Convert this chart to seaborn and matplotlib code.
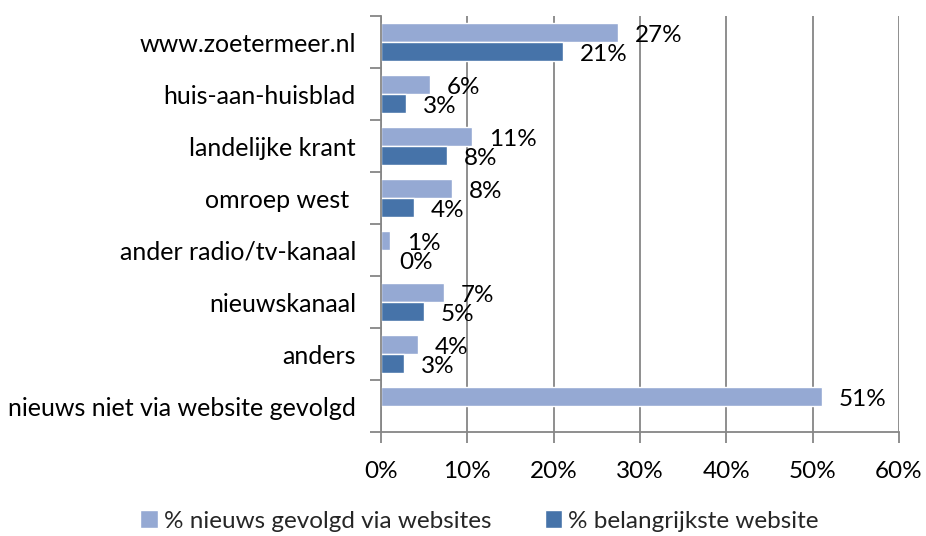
import numpy as np
import pandas as pd
import seaborn as sns
import matplotlib.pyplot as plt
from matplotlib.ticker import MultipleLocator, PercentFormatter

categorieen = ['www.zoetermeer.nl', 'huis-aan-huisblad', 'landelijke krant', 'omroep west ',
               'ander radio/tv-kanaal', 'nieuwskanaal', 'anders', 'nieuws niet via website gevolgd']
gevolgd = [27.4, 5.7, 10.6, 8.2, 1.0, 7.3, 4.3, 51.1]
belangrijkste = [21.1, 2.9, 7.6, 3.8, 0.1, 5.0, 2.7, np.nan]
series = ['% nieuws gevolgd via websites', '% belangrijkste website']
kleuren = ['#95A9D3', '#4673A9']

dados = pd.DataFrame({
    'categorie': categorieen * 2,
    'waarde': gevolgd + belangrijkste,
    'reeks': [series[0]] * len(categorieen) + [series[1]] * len(categorieen),
})

sns.set_theme(style='white')
plt.rcParams['font.family'] = ['Lato', 'DejaVu Sans']
fs = 17.5

fig = plt.figure(figsize=(9.26, 5.36), dpi=100)
ax = fig.add_axes([0.4114, 0.194, 0.5594, 0.776])

sns.barplot(data=dados, x='waarde', y='categorie', hue='reeks', order=categorieen,
            hue_order=series, palette=kleuren, width=0.73, orient='h',
            saturation=1, ax=ax, legend=True)

ax.set_xlim(0, 60)
ax.set_ylim(7.5, -0.5)
ax.xaxis.set_major_locator(MultipleLocator(10))
ax.xaxis.set_major_formatter(PercentFormatter(decimals=0))
ax.grid(axis='x', color='#868686', linewidth=1.3)
ax.grid(axis='y', visible=False)
ax.set_axisbelow(True)
for s in ['top', 'right']:
    ax.spines[s].set_visible(False)
for s in ['left', 'bottom']:
    ax.spines[s].set_color('#868686')
    ax.spines[s].set_linewidth(1.3)

ax.set_yticks(np.arange(8))
ax.set_yticklabels(categorieen)
ax.set_yticks(np.arange(-0.5, 8, 1), minor=True)
ax.tick_params(axis='y', which='major', length=0, pad=18, labelsize=18, labelcolor='black')
ax.tick_params(axis='y', which='minor', length=8, width=1.3, color='#868686', left=True)
ax.tick_params(axis='x', length=8, width=1.3, color='#868686', bottom=True, pad=13,
               labelsize=fs, labelcolor='black')
ax.set_xlabel('')
ax.set_ylabel('')

for cont, vals in zip(ax.containers, [gevolgd, belangrijkste]):
    for bar, v in zip(cont.patches, vals):
        if np.isnan(v):
            continue
        ax.annotate(f'{round(v)}%', (bar.get_width(), bar.get_y() + bar.get_height() / 2),
                    xytext=(17, -3), textcoords='offset pixels', va='center', ha='left',
                    fontsize=fs, color='black')

handles, labels = ax.get_legend_handles_labels()
ax.get_legend().remove()
fig.legend(handles, labels, loc='center', bbox_to_anchor=(0.518, 0.028), ncol=2,
           frameon=False, fontsize=fs, handlelength=0.72, handleheight=0.72,
           handletextpad=0.25, columnspacing=2.2)

fig.savefig('out.png', dpi=100)
